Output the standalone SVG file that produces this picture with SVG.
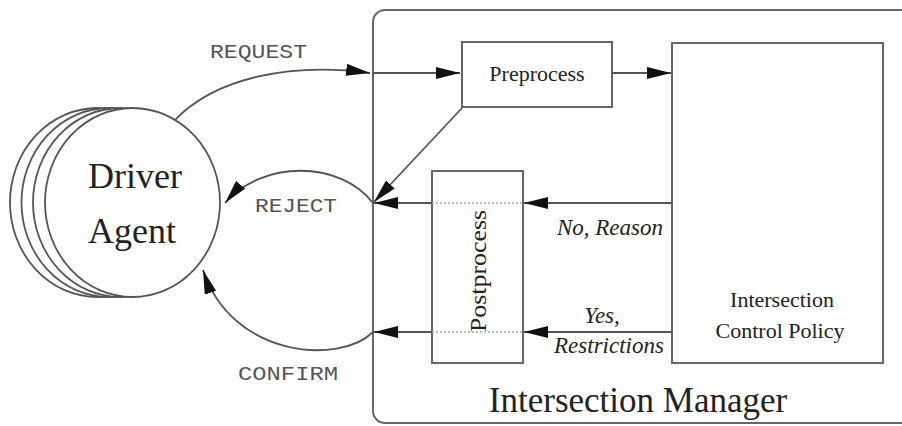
<svg xmlns="http://www.w3.org/2000/svg" width="902" height="426" viewBox="0 0 902 426">
<defs>
<marker id="ah" markerUnits="userSpaceOnUse" markerWidth="26" markerHeight="14" refX="24" refY="6" orient="auto">
<path d="M0,0 L24,6 L0,12 z" fill="#111"/>
</marker>
<style>
.ln{fill:none;stroke:#555;stroke-width:1.8}
.bx{fill:#fff;stroke:#666;stroke-width:2}
.ag{fill:#fff;stroke:#555;stroke-width:1.8}
.dot{fill:none;stroke:#aaa;stroke-width:1.3;stroke-dasharray:2 2}
.serif{font-family:"Liberation Serif","Times New Roman",serif;fill:#222}
.mono{font-family:"Liberation Mono","Courier New",monospace;fill:#555;font-size:20px}
.it{font-family:"Liberation Serif","Times New Roman",serif;font-style:italic;fill:#222;font-size:23px}
</style>
</defs>
<rect width="902" height="426" fill="#fff"/>
<g id="manager">
<rect x="373" y="10" width="580" height="413" rx="12" fill="none" stroke="#666" stroke-width="2"/>
<text class="serif" x="638" y="412" font-size="35" text-anchor="middle">Intersection Manager</text>
</g>
<g id="driver-agent">
<ellipse class="ag" cx="97.5" cy="202.5" rx="87.5" ry="94.5"/>
<ellipse class="ag" cx="109" cy="202.5" rx="87.5" ry="94.5"/>
<ellipse class="ag" cx="120.5" cy="202.5" rx="87.5" ry="94.5"/>
<ellipse class="ag" cx="132.5" cy="202.5" rx="87.5" ry="94.5"/>
<text class="serif" x="135" y="188" font-size="36" text-anchor="middle">Driver</text>
<text class="serif" x="132" y="243" font-size="36" text-anchor="middle">Agent</text>
</g>
<g id="preprocess">
<rect class="bx" x="462" y="42" width="150" height="65"/>
<text class="serif" x="537" y="81" font-size="22" text-anchor="middle">Preprocess</text>
</g>
<g id="policy">
<rect class="bx" x="672" y="43" width="211" height="320"/>
<text class="serif" x="782" y="307" font-size="22" text-anchor="middle">Intersection</text>
<text class="serif" x="780" y="338" font-size="22" text-anchor="middle">Control Policy</text>
</g>
<g id="postprocess">
<rect class="bx" x="432" y="171" width="91" height="192"/>
<text class="serif" transform="translate(486,271) rotate(-90)" font-size="23" text-anchor="middle" textLength="122" lengthAdjust="spacingAndGlyphs">Postprocess</text>
</g>
<g id="connectors">
<path class="ln" d="M175,120 C215,78 290,62 370,73" marker-end="url(#ah)"/>
<path class="ln" d="M373,73 L460,73" marker-end="url(#ah)"/>
<path class="ln" d="M612,73 L671,73" marker-end="url(#ah)"/>
<path class="ln" d="M462,108 L374,202" marker-end="url(#ah)"/>
<path class="ln" d="M373,203 C340,160 262,160 225,203" marker-end="url(#ah)"/>
<path class="ln" d="M672,203 L524,203" marker-end="url(#ah)"/>
<path class="dot" d="M432,203 L523,203"/>
<path class="ln" d="M432,203 L374,203" marker-end="url(#ah)"/>
<path class="ln" d="M672,332 L524,332" marker-end="url(#ah)"/>
<path class="dot" d="M432,332 L523,332"/>
<path class="ln" d="M432,332 L374,332" marker-end="url(#ah)"/>
<path class="ln" d="M373,332 C340,365 232,358 203,270" marker-end="url(#ah)"/>
<text class="mono" x="210" y="58" textLength="97" lengthAdjust="spacingAndGlyphs">REQUEST</text>
<text class="mono" x="255" y="212" textLength="82" lengthAdjust="spacingAndGlyphs">REJECT</text>
<text class="mono" x="238" y="380" textLength="100" lengthAdjust="spacingAndGlyphs">CONFIRM</text>
<text class="it" x="663" y="235" text-anchor="end">No, Reason</text>
<text class="it" x="602" y="323" text-anchor="middle">Yes,</text>
<text class="it" x="609" y="353" text-anchor="middle">Restrictions</text>
</g>
</svg>
